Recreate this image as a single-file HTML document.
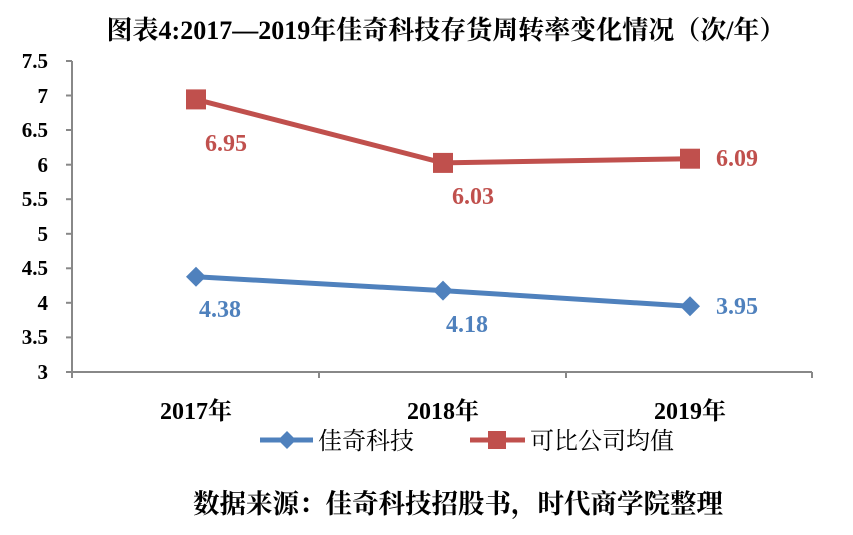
<!DOCTYPE html>
<html><head><meta charset="utf-8"><style>
body{margin:0;background:#fff;}
text{font-family:"Liberation Serif","Noto Serif CJK SC",serif;font-weight:bold;}
</style></head><body>
<svg width="853" height="530" xmlns="http://www.w3.org/2000/svg">
<text x="446" y="39" text-anchor="middle" font-size="26" fill="#000">图表4:2017—2019年佳奇科技存货周转率变化情况（次/年）</text>
<g stroke="#888" stroke-width="2" fill="none">
<line x1="72" y1="61" x2="72" y2="372"/>
<line x1="72" y1="372" x2="812" y2="372"/>
<line x1="66" y1="61" x2="72" y2="61"/><line x1="66" y1="95.5" x2="72" y2="95.5"/>
<line x1="66" y1="130" x2="72" y2="130"/><line x1="66" y1="164.7" x2="72" y2="164.7"/>
<line x1="66" y1="199.2" x2="72" y2="199.2"/><line x1="66" y1="233.8" x2="72" y2="233.8"/>
<line x1="66" y1="268.3" x2="72" y2="268.3"/><line x1="66" y1="302.8" x2="72" y2="302.8"/>
<line x1="66" y1="337.4" x2="72" y2="337.4"/><line x1="66" y1="372" x2="72" y2="372"/>
<line x1="72" y1="372" x2="72" y2="378"/><line x1="319" y1="372" x2="319" y2="378"/>
<line x1="566" y1="372" x2="566" y2="378"/><line x1="812" y1="372" x2="812" y2="378"/>
</g>
<g font-size="21" text-anchor="end" fill="#000">
<text x="48" y="68">7.5</text><text x="48" y="103">7</text><text x="48" y="137">6.5</text>
<text x="48" y="172">6</text><text x="48" y="206">5.5</text><text x="48" y="241">5</text>
<text x="48" y="275">4.5</text><text x="48" y="310">4</text><text x="48" y="344">3.5</text>
<text x="48" y="379">3</text>
</g>
<g font-size="24" text-anchor="middle" fill="#000">
<text x="196" y="419">2017年</text><text x="443" y="419">2018年</text><text x="690" y="419">2019年</text>
</g>
<polyline points="196,99.4 443,162.9 690,158.7" stroke="#C0504D" stroke-width="5" fill="none"/>
<g fill="#C0504D">
<rect x="186" y="89.4" width="20" height="20"/><rect x="433" y="152.9" width="20" height="20"/><rect x="680" y="148.7" width="20" height="20"/>
</g>
<polyline points="196,276.8 443,290.6 690,306.3" stroke="#4F81BD" stroke-width="5" fill="none"/>
<g fill="#4F81BD">
<polygon points="196,266.8 206,276.8 196,286.8 186,276.8"/>
<polygon points="443,280.6 453,290.6 443,300.6 433,290.6"/>
<polygon points="690,296.3 700,306.3 690,316.3 680,306.3"/>
</g>
<g font-size="24" fill="#C0504D" text-anchor="middle">
<text x="226" y="151">6.95</text><text x="473" y="204">6.03</text><text x="737" y="166">6.09</text>
</g>
<g font-size="24" fill="#4F81BD" text-anchor="middle">
<text x="220" y="317">4.38</text><text x="467" y="332">4.18</text><text x="737" y="314">3.95</text>
</g>
<line x1="260" y1="440" x2="313" y2="440" stroke="#4F81BD" stroke-width="5"/>
<polygon points="287,431 296,440 287,449 278,440" fill="#4F81BD"/>
<text x="318" y="449" font-size="24" font-weight="normal" style="font-weight:normal" fill="#000">佳奇科技</text>
<line x1="470" y1="440" x2="525" y2="440" stroke="#C0504D" stroke-width="5"/>
<rect x="488" y="431" width="18" height="18" fill="#C0504D"/>
<text x="530" y="449" font-size="24" style="font-weight:normal" fill="#000">可比公司均值</text>
<text x="458" y="513" text-anchor="middle" font-size="26.5" fill="#000">数据来源：佳奇科技招股书，时代商学院整理</text>
</svg>
</body></html>
